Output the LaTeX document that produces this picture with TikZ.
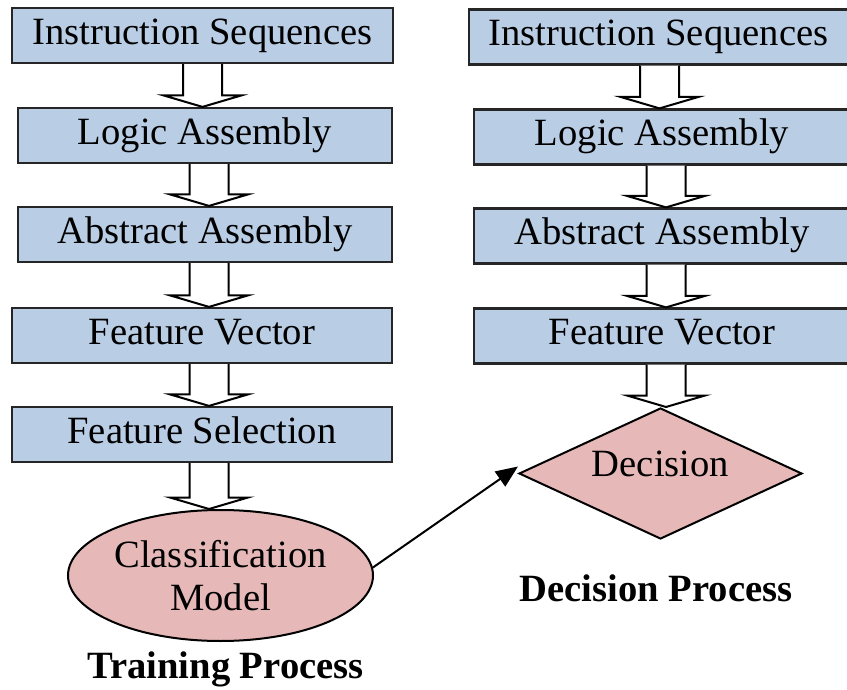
\documentclass[tikz,border=0pt]{standalone}
\usepackage{fontspec}
\setmainfont{Liberation Serif}
\usetikzlibrary{shapes.geometric,arrows.meta,calc}
\definecolor{boxblue}{HTML}{B9CDE5}
\definecolor{boxpink}{HTML}{E6B9B8}
\newcommand\blockarrow[3]{%
  \path (#3,0) coordinate (bx);
  \draw[blockarrowstyle] ($(bx |- #1.south)+(-19.5,0)$) -- ($(bx |- #2.north)+(-19.5,-11.5)$) -- ($(bx |- #2.north)+(-39,-11.5)$) -- (bx |- #2.north) -- ($(bx |- #2.north)+(39,-11.5)$) -- ($(bx |- #2.north)+(19.5,-11.5)$) -- ($(bx |- #1.south)+(19.5,0)$);}
\begin{document}
\begin{tikzpicture}[x=0.5pt,y=-0.5pt,
  every node/.style={font=\fontsize{19.3pt}{21.5pt}\selectfont},
  stepbox/.style={draw=black!85, line width=1.1pt, fill=boxblue, rectangle,
    minimum height=27.5pt, inner sep=0pt, text height=13.1pt, text depth=4.25pt},
  blockarrowstyle/.style={draw=black, fill=white, line width=1pt, line join=miter},
  pinkshape/.style={draw=black, line width=1pt, fill=boxpink, inner sep=0pt},
  caption/.style={anchor=base, font=\fontsize{19.3pt}{21.5pt}\selectfont\bfseries}]
\clip (0,0) rectangle (847,690);
\fill[white] (0,0) rectangle (847,690);
% training process
\node[stepbox, minimum width=190.5pt] (L1) at (202.5,35.5) {Instruction Sequences};
\node[stepbox, minimum width=187pt] (L2) at (205,135.5) {Logic Assembly};
\node[stepbox, minimum width=187pt] (L3) at (205,234.5) {Abstract Assembly};
\node[stepbox, minimum width=190pt] (L4) at (202,335.5) {Feature Vector};
\node[stepbox, minimum width=190pt] (L5) at (202,434.5) {Feature Selection};
\node[pinkshape, ellipse, minimum width=152.5pt, minimum height=65.5pt, align=center] (CM) at (220.5,575.5) {Classification\\Model};
\node[caption] (TP) at (225.5,678) {Training Process};
% decision process
\node[stepbox, minimum width=189.5pt] (R1) at (658.5,37) {Instruction Sequences};
\node[stepbox, minimum width=188pt] (R2) at (662,137) {Logic Assembly};
\node[stepbox, minimum width=188pt] (R3) at (662,236) {Abstract Assembly};
\node[stepbox, minimum width=188pt] (R4) at (662,336) {Feature Vector};
\node[pinkshape, diamond, minimum width=141.5pt, minimum height=65.5pt, shape aspect=2.16, text height=13.1pt, text depth=10.6pt] (D) at (660.5,473.5) {Decision};
\node[caption] (DP) at (656,601.5) {Decision Process};
% block arrows
\blockarrow{L1}{L2}{202.5}
\blockarrow{L2}{L3}{209}
\blockarrow{L3}{L4}{209}
\blockarrow{L4}{L5}{209}
\blockarrow{L5}{CM}{209}
\blockarrow{R1}{R2}{659.5}
\blockarrow{R2}{R3}{666}
\blockarrow{R3}{R4}{666}
\blockarrow{R4}{D}{666}
% connector
\draw[line width=1pt, -{Triangle[length=11pt,width=9pt]}] (CM.3) -- ($(D.west)+(0,-7)$);
\end{tikzpicture}
\end{document}
